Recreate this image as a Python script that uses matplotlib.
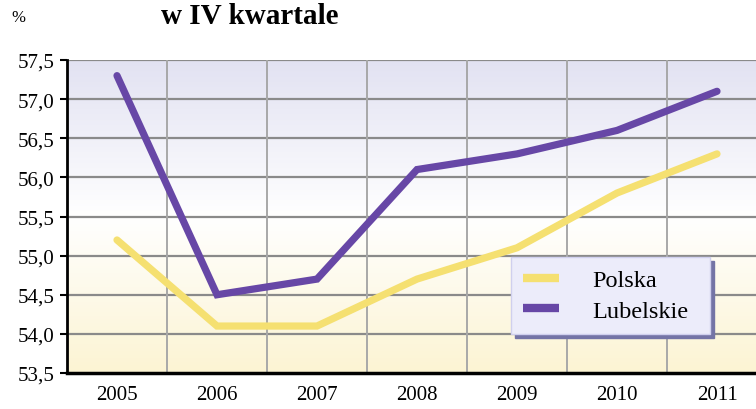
import numpy as np
import matplotlib.pyplot as plt
from matplotlib.colors import LinearSegmentedColormap

# Data
years = ['2005', '2006', '2007', '2008', '2009', '2010', '2011']
polska = [55.2, 54.1, 54.1, 54.7, 55.1, 55.8, 56.3]
lubelskie = [57.3, 54.5, 54.7, 56.1, 56.3, 56.6, 57.1]
yticks = [53.5, 54.0, 54.5, 55.0, 55.5, 56.0, 56.5, 57.0, 57.5]

plt.rcParams['font.family'] = ['Liberation Serif', 'DejaVu Serif']

fig = plt.figure(figsize=(7.56, 4.10), dpi=100)
ax = fig.add_axes([67 / 756, 36 / 410, 700 / 756, 313 / 410])

# background gradient: pale yellow at bottom, white in middle, lavender at top
cmap = LinearSegmentedColormap.from_list('bg', [(0.0, '#fcf4d3'), (0.5, '#ffffff'), (1.0, '#e2e2f2')])
grad = np.linspace(0, 1, 256).reshape(-1, 1)
ax.imshow(grad, cmap=cmap, aspect='auto', origin='lower',
          extent=[0, 1, 0, 1], transform=ax.transAxes, zorder=0)

x = np.arange(len(years))
ax.plot(x, polska, color='#f5e071', lw=5.2, solid_capstyle='round',
        solid_joinstyle='miter', label='Polska', zorder=3)
ax.plot(x, lubelskie, color='#6747a6', lw=5.2, solid_capstyle='round',
        solid_joinstyle='miter', label='Lubelskie', zorder=3)

ax.set_xlim(-0.5, len(years) - 0.5)
ax.set_ylim(53.5, 57.5)
ax.set_yticks(yticks)
ax.set_yticklabels([f'{v:.1f}'.replace('.', ',') for v in yticks], fontsize=15)
ax.set_xticks(x)
ax.set_xticklabels(years, fontsize=15)
ax.tick_params(axis='x', length=0, pad=9)
ax.tick_params(axis='y', length=5, width=1.5, pad=4, direction='out')

# grid
for v in yticks[1:]:
    ax.axhline(v, color='#8a8a8a', lw=1.6, zorder=1)
for b in np.arange(0.5, len(years) - 0.5, 1):
    ax.axvline(b, color='#a8a8a8', lw=1.4, zorder=1)

for s in ['top', 'right']:
    ax.spines[s].set_visible(False)
ax.spines['left'].set_linewidth(2)
ax.spines['bottom'].set_linewidth(2.5)

leg = ax.legend(loc='upper left', bbox_to_anchor=(0.634, 0.118, 0.284, 0.253),
                mode='expand', borderaxespad=0, fontsize=17.5, handlelength=1.5,
                handletextpad=1.35, borderpad=0.5, labelspacing=0.35, fancybox=False,
                shadow={'color': '#7474a6', 'alpha': 1.0, 'ox': 3, 'oy': -3}, framealpha=1)
leg.get_frame().set_facecolor('#ececfa')
leg.get_frame().set_edgecolor('#d0d0ee')
leg.get_frame().set_linewidth(1)
for line in leg.get_lines():
    line.set_linewidth(6)
    line.set_solid_capstyle('butt')

fig.text(18 / 756, 1 - 18 / 410, '%', fontsize=12, ha='center', va='center')
fig.text(250 / 756, 1 - 16 / 410, 'w IV kwartale', fontsize=21, fontweight='bold',
         ha='center', va='center')

fig.savefig('out.png', dpi=100)
